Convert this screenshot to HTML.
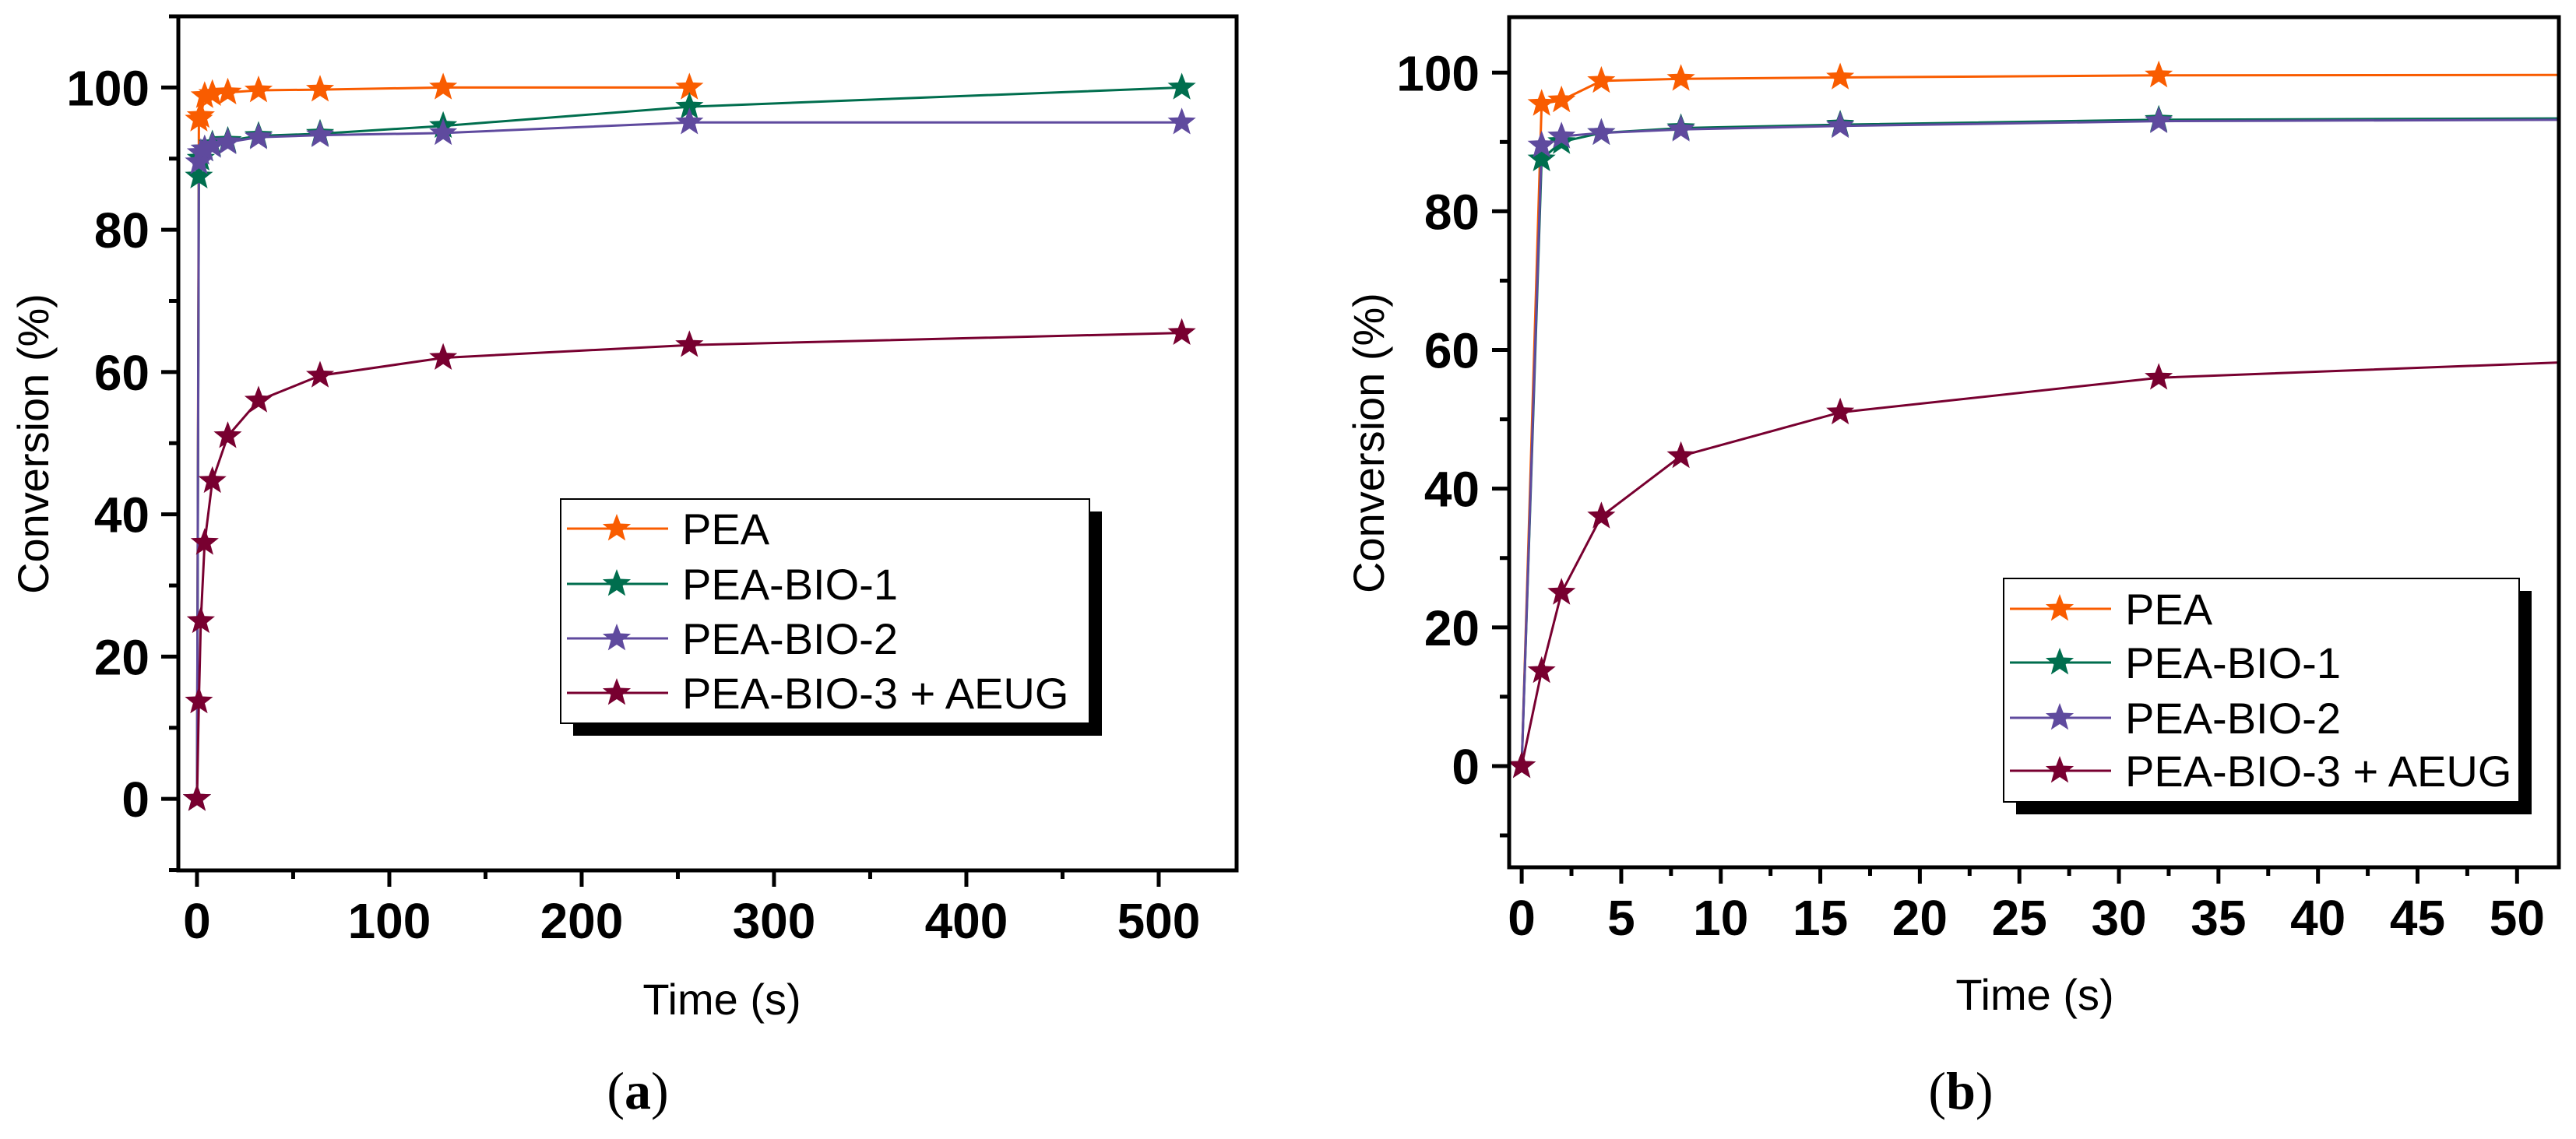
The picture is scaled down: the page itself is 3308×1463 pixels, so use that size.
<!DOCTYPE html>
<html><head><meta charset="utf-8">
<style>
html,body{margin:0;padding:0;background:#fff;}
svg{display:block;}
text{font-family:"Liberation Sans",Arial,sans-serif;}
</style></head>
<body>
<svg id="fig" width="3308" height="1463" viewBox="0 0 3308 1463" xmlns="http://www.w3.org/2000/svg">
<defs>
<clipPath id="clipA"><rect x="229" y="21" width="1359" height="1097"/></clipPath>
<clipPath id="clipB"><rect x="1938" y="22" width="1348" height="1092"/></clipPath>
</defs>
</svg>
<script>
const times = [0, 1, 2, 4, 8, 16, 32, 64, 128, 256, 512];
const seriesNames = ["PEA", "PEA-BIO-1", "PEA-BIO-2", "PEA-BIO-3 + AEUG"];
const peaValues = [0, 95.5, 96, 98.8, 99.1, 99.3, 99.6, 99.7, 100, 100, null];
const bio1Values = [0, 87.5, 90, 91.3, 92, 92.5, 93.2, 93.5, 94.6, 97.3, 100];
const bio2Values = [0, 89.5, 90.8, 91.3, 91.8, 92.3, 93, 93.3, 93.6, 95.1, 95.1];
const bio3Values = [0, 13.7, 25, 36, 44.7, 51, 56, 59.5, 62, 63.8, 65.5];
const yTicks = [0, 20, 40, 60, 80, 100];
const xTicksA = [0, 100, 200, 300, 400, 500];
const xTicksB = [0, 5, 10, 15, 20, 25, 30, 35, 40, 45, 50];

const colors = ["#f95c00", "#006e4e", "#5f4a9e", "#780030"];
const allValues = [peaValues, bio1Values, bio2Values, bio3Values];
const NS = "http://www.w3.org/2000/svg";
const svg = document.getElementById("fig");

function mk(tag, attrs, parent) {
  const e = document.createElementNS(NS, tag);
  for (const k in attrs) e.setAttribute(k, attrs[k]);
  (parent || svg).appendChild(e);
  return e;
}
function starPts(cx, cy, R) {
  const r = R * 0.42; let p = [];
  for (let i = 0; i < 10; i++) {
    const a = -Math.PI / 2 + i * Math.PI / 5;
    const rr = i % 2 ? r : R;
    p.push((cx + rr * Math.cos(a)).toFixed(1) + "," + (cy + rr * Math.sin(a)).toFixed(1));
  }
  return p.join(" ");
}

function panel(cfg) {
  const g = mk("g", {});
  
  
  const X = v => cfg.x0 + (v - cfg.xmin) / (cfg.xmax - cfg.xmin) * (cfg.x1 - cfg.x0);
  const Y = v => cfg.y1 - (v - cfg.ymin) / (cfg.ymax - cfg.ymin) * (cfg.y1 - cfg.y0);
  const sg = mk("g", {"clip-path": "url(#" + cfg.clip + ")"}, g);
  
  
  allValues.forEach((vals, si) => {
    let pts = [];
    times.forEach((t, i) => { if (vals[i] !== null) pts.push([X(t), Y(vals[i])]); });
    const pl = mk("polyline", {points: pts.map(p => p[0].toFixed(1) + "," + p[1].toFixed(1)).join(" "), fill: "none", stroke: colors[si], "stroke-width": 3}, sg);
    
    
  });
  allValues.forEach((vals, si) => {
    times.forEach((t, i) => {
      if (vals[i] === null) return;
      const s = mk("polygon", {points: starPts(X(t), Y(vals[i]), 19), fill: colors[si]}, sg);
      
      
    });
  });
  const fr = mk("rect", {x: cfg.x0, y: cfg.y0, width: cfg.x1 - cfg.x0, height: cfg.y1 - cfg.y0, fill: "none", stroke: "#000", "stroke-width": 5}, g);
  
  
  for (let v = Math.ceil(cfg.ymin / 10) * 10; v <= cfg.ymax; v += 10) {
    const major = yTicks.includes(v);
    const t = mk("line", {x1: cfg.x0, x2: cfg.x0 - (major ? 22 : 12), y1: Y(v), y2: Y(v), stroke: "#000", "stroke-width": 5}, g);
    
    
  }
  yTicks.forEach(v => {
    const t = mk("text", {x: cfg.ylabX, y: Y(v) + 23, "text-anchor": "end", "font-size": 64, "font-weight": "bold"}, g);
    t.textContent = v;
    
    
  });
  for (let v = 0; v <= cfg.xmax; v += cfg.xminor) {
    const major = Math.abs(v / cfg.xmajor - Math.round(v / cfg.xmajor)) < 1e-6;
    const t = mk("line", {x1: X(v), x2: X(v), y1: cfg.y1, y2: cfg.y1 + (major ? 21 : 11), stroke: "#000", "stroke-width": 5}, g);
    
    
  }
  cfg.xticks.forEach(v => {
    const t = mk("text", {x: X(v), y: cfg.y1 + 87, "text-anchor": "middle", "font-size": 64, "font-weight": "bold"}, g);
    t.textContent = v;
    
    
  });
  const yt = mk("text", {x: 0, y: 0, transform: "translate(" + cfg.ytX + "," + cfg.ytY + ") rotate(-90)", "text-anchor": "middle", "font-size": 56}, g);
  yt.textContent = "Conversion (%)";
  
  
  const xt = mk("text", {x: cfg.xtX, y: cfg.xtY, "text-anchor": "middle", "font-size": 56}, g);
  xt.textContent = "Time (s)";
  
  
  const cp = mk("text", {x: cfg.capX, y: 1424, "text-anchor": "middle", "font-size": 68, style: "font-family:'Liberation Serif',serif"}, g);
  cp.innerHTML = '(<tspan font-weight="bold">' + cfg.cap + '</tspan>)';
  
  
  const L = cfg.leg;
  const lg = mk("g", {}, g);
  
  
  const sh = mk("rect", {x: L.x + 16, y: L.y + 16, width: L.w, height: L.h, fill: "#000"}, lg);
  
  
  const bx = mk("rect", {x: L.x, y: L.y, width: L.w, height: L.h, fill: "#fff", stroke: "#000", "stroke-width": 2}, lg);
  
  
  seriesNames.forEach((n, i) => {
    const yy = L.rows[i];
    const ln = mk("line", {x1: L.x + 8, x2: L.x + 138, y1: yy, y2: yy, stroke: colors[i], "stroke-width": 3}, lg);
    
    
    const st = mk("polygon", {points: starPts(L.x + 72, yy, 19), fill: colors[i]}, lg);
    
    
    const tx = mk("text", {x: L.x + 156, y: yy + 20, "font-size": 56}, lg);
    tx.textContent = n;
    
    
  });
}

panel({name: "panel-a", clip: "clipA", x0: 229, x1: 1588, y0: 21, y1: 1118,
  xmin: -9.7, xmax: 540.5, ymin: -10.05, ymax: 110, xminor: 50, xmajor: 100, xticks: xTicksA,
  ylabX: 192, ytX: 62, ytY: 570, xtX: 927, xtY: 1303, capX: 819, cap: "a",
  leg: {x: 720, y: 641, w: 679, h: 288, rows: [679, 750, 820, 890]}});
panel({name: "panel-b", clip: "clipB", x0: 1938, x1: 3286, y0: 22, y1: 1114,
  xmin: -0.63, xmax: 52.1, ymin: -14.6, ymax: 108, xminor: 2.5, xmajor: 5, xticks: xTicksB,
  ylabX: 1900, ytX: 1777, ytY: 569, xtX: 2613, xtY: 1297, capX: 2518, cap: "b",
  leg: {x: 2573, y: 743, w: 662, h: 287, rows: [782, 851, 922, 990]}});
</script>
</body></html>
